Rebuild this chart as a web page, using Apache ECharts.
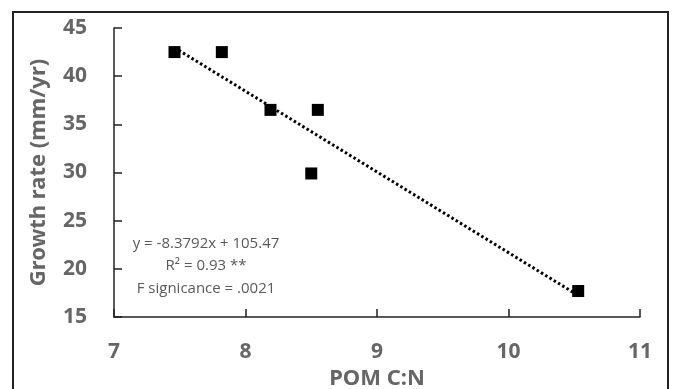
<!DOCTYPE html>
<html>
<head>
<meta charset="utf-8">
<script src="https://cdn.jsdelivr.net/npm/echarts@6/dist/echarts.min.js"></script>
<style>
  html, body { margin: 0; padding: 0; background: #fff; }
  #chart { width: 674px; height: 389px; }
</style>
</head>
<body>
<div id="chart"></div>
<script>
// values
const pomCN = [7.46, 7.82, 8.19, 8.55, 8.50, 10.53];
const growthRate = [42.5, 42.5, 36.5, 36.5, 29.9, 17.7];
const trendX = [7.46, 10.53];
const trendY = [42.96, 17.24];
const xTicks = [7, 8, 9, 10, 11];
const yTicks = [15, 20, 25, 30, 35, 40, 45];
const fitLines = ['y = -8.3792x + 105.47', 'R² = 0.93 **', 'F signicance = .0021'];

const chart = echarts.init(document.getElementById('chart'));

const labelGray = '#666666';
const boldFont = 'Noto Sans';

const option = {
  animation: false,
  grid: { left: 114, top: 28, right: 34, bottom: 72, containLabel: false, outerBoundsMode: 'none' },
  xAxis: {
    type: 'value',
    min: xTicks[0],
    max: xTicks[xTicks.length - 1],
    interval: 1,
    name: 'POM C:N',
    nameLocation: 'middle',
    nameGap: 50,
    nameTextStyle: { color: labelGray, fontWeight: 'bold', fontSize: 22, fontFamily: boldFont },
    axisLine: { lineStyle: { color: '#222', width: 1.5 } },
    axisTick: { inside: true, length: 8, lineStyle: { color: '#222', width: 1.5 } },
    axisLabel: { color: labelGray, fontWeight: 'bold', fontSize: 21, fontFamily: boldFont, margin: 25 },
    splitLine: { show: false }
  },
  yAxis: {
    type: 'value',
    min: yTicks[0],
    max: yTicks[yTicks.length - 1],
    interval: 5,
    name: 'Growth rate (mm/yr)',
    nameLocation: 'middle',
    nameGap: 64,
    nameTextStyle: { color: labelGray, fontWeight: 'bold', fontSize: 22, fontFamily: boldFont },
    axisLine: { show: true, lineStyle: { color: '#222', width: 1.5 } },
    axisTick: { show: true, inside: true, length: 8, lineStyle: { color: '#222', width: 1.5 } },
    axisLabel: { color: labelGray, fontWeight: 'bold', fontSize: 21, fontFamily: boldFont, margin: 27 },
    splitLine: { show: false }
  },
  graphic: [
    {
      type: 'rect',
      shape: { x: 13, y: 12, width: 655, height: 400 },
      style: { fill: 'none', stroke: '#222', lineWidth: 2 },
      silent: true
    },
    {
      type: 'text',
      x: 206,
      y: 232,
      style: {
        text: fitLines.join('\n'),
        align: 'center',
        verticalAlign: 'top',
        lineHeight: 22.5,
        fill: '#595959',
        fontSize: 15,
        fontFamily: 'Open Sans'
      }
    }
  ],
  series: [
    {
      type: 'line',
      data: trendX.map((x, i) => [x, trendY[i]]),
      symbol: 'none',
      lineStyle: { color: '#000', width: 3, type: [2.5, 2.5] },
      z: 1
    },
    {
      type: 'scatter',
      data: pomCN.map((x, i) => [x, growthRate[i]]),
      symbol: 'rect',
      symbolSize: 12,
      itemStyle: { color: '#000', opacity: 1 },
      z: 2
    }
  ]
};

chart.setOption(option);
</script>
</body>
</html>
